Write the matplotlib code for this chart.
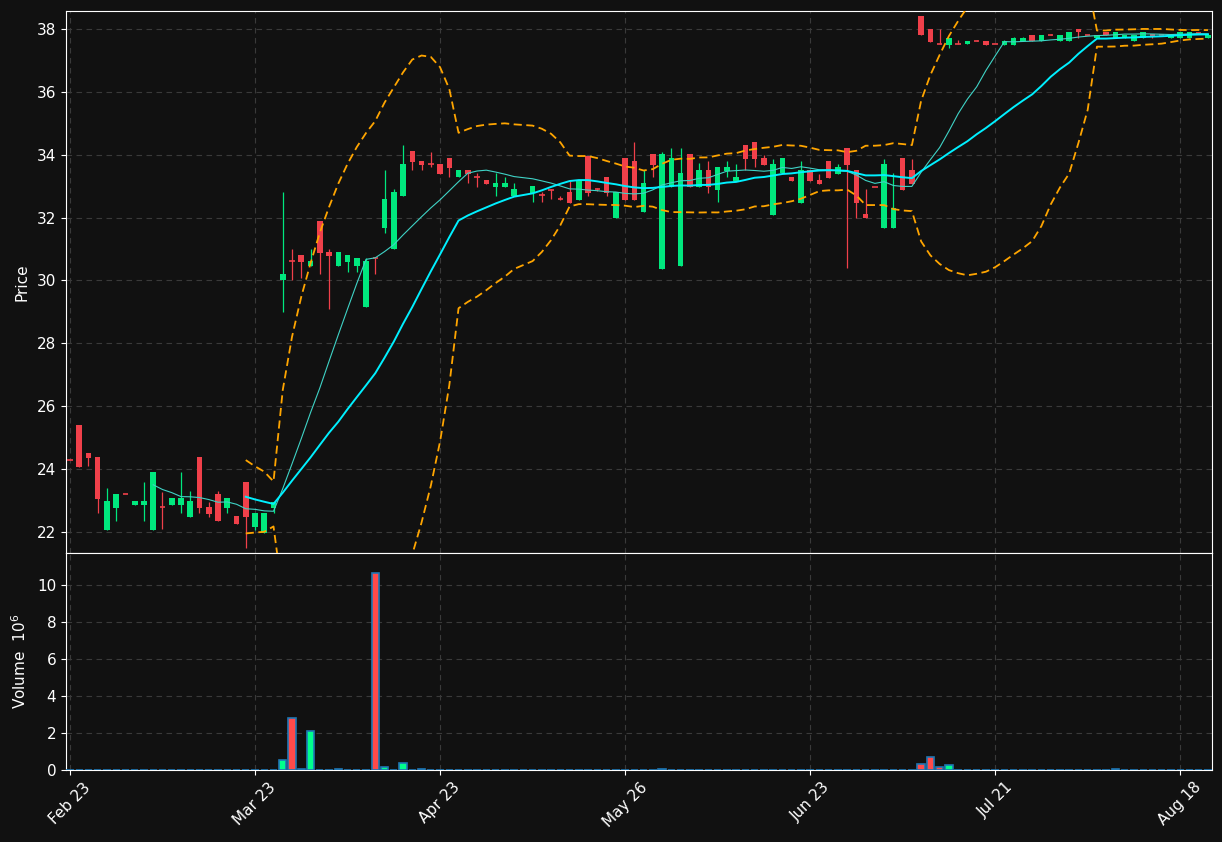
import numpy as np
import pandas as pd
import matplotlib
matplotlib.use("Agg")
import matplotlib.pyplot as plt

nan = np.nan
ohlc = [
(24.3,24.3,24.3,24.3),(25.4,25.4,24.07,24.07),(24.5,24.5,24.1,24.35),(24.4,24.4,22.6,23.05),
(22.06,23.4,22.06,23.0),(22.76,23.2,22.35,23.2),(23.2,23.2,23.2,23.2),(22.86,22.99,22.86,22.99),
(22.86,23.6,22.35,22.99),(22.06,23.9,22.06,23.9),(22.8,23.27,22.1,22.8),(22.86,23.08,22.86,23.08),
(22.86,23.9,22.6,23.08),(22.48,23.3,22.48,22.99),(24.4,24.4,22.6,22.76),(22.8,22.95,22.48,22.57),
(23.2,23.3,22.35,22.35),(22.76,23.08,22.6,23.08),(22.5,22.5,22.25,22.25),(23.6,23.6,21.5,22.48),
(22.16,22.6,22.06,22.6),(21.97,22.6,21.97,22.6),(22.76,22.95,22.6,22.95),(30.0,32.8,29.0,30.2),
(30.62,31.0,30.0,30.62),(30.81,30.81,30.08,30.59),(30.46,31.0,30.46,30.62),(31.9,31.9,30.2,30.87),
(30.9,31.0,29.1,30.78),(30.46,30.9,30.46,30.9),(30.59,30.81,30.27,30.81),(30.46,30.71,30.27,30.71),
(29.16,30.7,29.16,30.62),(30.7,30.7,30.2,30.7),(31.67,33.5,31.5,32.59),(31.0,32.9,31.0,32.8),
(32.69,34.3,32.69,33.7),(34.12,34.12,33.5,33.77),(33.8,33.8,33.5,33.67),(33.7,34.1,33.6,33.7),
(33.7,33.7,33.39,33.39),(33.9,33.9,33.3,33.58),(33.29,33.51,33.29,33.51),(33.5,33.5,33.1,33.4),
(33.29,33.42,32.97,33.29),(33.2,33.2,33.07,33.07),(32.97,33.42,32.69,33.1),(32.97,33.29,32.97,33.1),
(32.69,33.1,32.69,32.9),(nan,nan,nan,nan),(32.78,33.0,32.5,33.0),(32.72,32.8,32.5,32.72),
(32.88,32.9,32.6,32.88),(32.6,32.7,32.55,32.6),(32.8,33.17,32.47,32.47),(32.56,33.2,32.56,33.2),
(33.95,33.95,32.7,32.78),(32.9,32.95,32.85,32.9),(33.29,33.29,32.7,32.78),(32.0,32.8,32.0,32.8),
(33.9,33.9,32.56,32.56),(33.8,34.4,32.56,32.56),(32.18,33.5,32.18,33.1),(34.02,34.02,33.3,33.67),
(30.37,34.1,30.37,34.02),(32.97,34.2,32.97,33.9),(30.46,34.2,30.46,33.42),(34.02,34.02,32.97,32.97),
(32.97,33.75,32.97,33.5),(33.51,33.8,32.77,32.97),(32.88,33.6,32.5,33.6),(33.48,33.8,33.3,33.6),
(33.17,33.7,33.17,33.29),(34.31,34.31,33.5,33.86),(34.4,34.4,33.6,33.86),(33.9,34.0,33.67,33.67),
(32.08,33.85,32.08,33.7),(33.42,33.9,33.42,33.9),(33.29,33.29,33.17,33.17),(32.47,33.8,32.47,33.51),
(33.5,33.5,33.17,33.17),(33.2,33.4,33.07,33.07),(33.8,33.8,33.26,33.26),(33.39,33.7,33.39,33.6),
(34.2,34.2,30.4,33.67),(33.5,33.5,32.0,32.47),(32.1,32.9,31.99,31.99),(32.97,32.97,32.97,32.97),
(31.67,33.85,31.67,33.7),(31.67,33.42,31.67,32.3),(33.9,33.9,32.88,32.88),(33.5,33.85,33.07,33.07),
(38.41,38.41,37.79,37.79),(38.0,38.0,37.59,37.59),(37.52,37.99,37.52,37.52),(37.49,37.7,37.4,37.7),
(37.52,37.65,37.52,37.52),(37.52,37.6,37.52,37.6),(37.6,37.65,37.6,37.6),(37.61,37.61,37.5,37.5),
(37.52,37.52,37.52,37.52),(37.5,37.65,37.5,37.61),(37.5,37.75,37.5,37.71),(37.6,37.75,37.6,37.72),
(37.81,37.81,37.61,37.61),(37.62,37.81,37.62,37.81),(37.81,37.85,37.81,37.81),(37.62,37.81,37.62,37.81),
(37.61,37.9,37.61,37.9),(38.0,38.0,37.72,37.9),(37.8,37.8,37.8,37.8),(37.72,37.8,37.72,37.8),
(37.9,37.9,37.8,37.8),(37.71,37.9,37.71,37.9),(37.72,37.81,37.72,37.81),(37.61,37.81,37.61,37.81),
(37.72,37.9,37.72,37.9),(37.83,37.83,37.7,37.75),(37.82,37.82,37.82,37.82),(37.72,37.81,37.72,37.81),
(37.72,37.9,37.72,37.9),(37.72,37.9,37.72,37.9),(37.87,37.87,37.87,37.87),(37.72,37.81,37.72,37.81),
]
opens = [r[0] for r in ohlc]
highs = [r[1] for r in ohlc]
lows = [r[2] for r in ohlc]
closes = [r[3] for r in ohlc]

volume = [0.01]*len(ohlc)
vol_special = {23:0.55,24:2.8,25:0.03,26:2.1,29:0.03,33:10.65,34:0.15,36:0.38,38:0.03,46:0.02,
               55:0.01,64:0.08,65:0.02,92:0.3,93:0.7,94:0.15,95:0.25,107:0.02,110:0.02,113:0.08}
for k, v in vol_special.items():
    volume[k] = v
volume[49] = nan

tick_pos = [0, 20, 40, 60, 80, 100, 120]
tick_labels = ["Feb 23", "Mar 23", "Apr 23", "May 26", "Jun 23", "Jul 21", "Aug 18"]

BG = "#111111"
UP = "#00e87e"
DN = "#f0404a"

fig = plt.figure(figsize=(12.22, 8.42), dpi=100, facecolor=BG)
ax = fig.add_axes([0.054, 0.343, 0.938, 0.644], facecolor=BG)
axv = fig.add_axes([0.054, 0.0855, 0.938, 0.2575], facecolor=BG, sharex=ax)

n = len(ohlc)
x = np.arange(n)
o = np.array(opens); h = np.array(highs); l = np.array(lows); c = np.array(closes)
for i in range(n):
    if np.isnan(o[i]):
        continue
    col = UP if c[i] > o[i] else DN
    ax.vlines(i, l[i], h[i], color=col, lw=0.9, zorder=3)
    bh = abs(c[i]-o[i])
    if bh < 0.03:
        ax.hlines(o[i], i-0.3, i+0.3, color=col, lw=1.2, zorder=3)
    else:
        ax.add_patch(plt.Rectangle((i-0.3, min(o[i], c[i])), 0.6, bh, color=col, zorder=3, lw=0))

s = pd.Series(closes, index=x).dropna()
m10 = s.rolling(10).mean()
m20 = s.rolling(20).mean()
sd = s.rolling(20).std(ddof=0)
ax.plot(m10.index, m10.values, color="#3fd3c6", lw=0.8, zorder=4)
ax.plot(m20.index, m20.values, color="#00f0ff", lw=1.4, zorder=4)
ax.plot(m20.index, (m20+2*sd).values, color="#ffa500", lw=1.3, ls=(0, (4.5, 2.5)), zorder=4)
ax.plot(m20.index, (m20-2*sd).values, color="#ffa500", lw=1.3, ls=(0, (4.5, 2.5)), zorder=4)

vcols = ["#00ff8c" if (not np.isnan(o[i]) and c[i] > o[i]) else "#ff4a4a" for i in range(n)]
vv = np.nan_to_num(np.array(volume))
axv.bar(x, vv, width=0.8, color=vcols, edgecolor="#1f77b4", linewidth=1.2, zorder=3)

for a in (ax, axv):
    a.grid(True, color="#3a3a3a", ls=(0, (5, 4)), lw=0.8, zorder=0)
    for sp in a.spines.values():
        sp.set_color("white")
    a.tick_params(colors="white", labelsize=11)
ax.set_xlim(-0.43, 123.46)
ax.set_ylim(21.33, 38.57)
ax.set_yticks([22, 24, 26, 28, 30, 32, 34, 36, 38])
ax.tick_params(labelbottom=False)
axv.set_ylim(0, 11.7)
axv.set_yticks([0, 2, 4, 6, 8, 10])
axv.set_xticks(tick_pos)
axv.set_xticklabels(tick_labels, rotation=45, ha="center")
ax.set_ylabel("Price", color="white", fontsize=11)
axv.set_ylabel("Volume  $10^6$", color="white", fontsize=11)
ax.yaxis.set_label_coords(-0.032, 0.5)
axv.yaxis.set_label_coords(-0.032, 0.5)
fig.savefig("out.png", dpi=100, facecolor=BG)
